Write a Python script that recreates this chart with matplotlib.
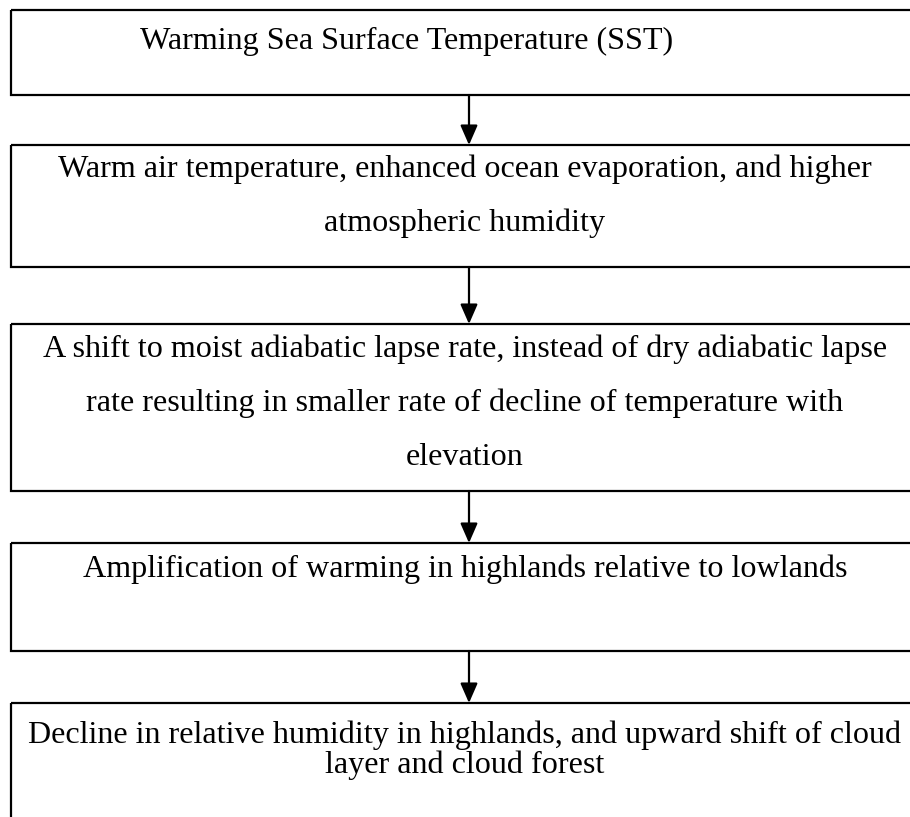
import matplotlib
matplotlib.use('Agg')
import matplotlib.pyplot as plt
from matplotlib.patches import Rectangle

# flow chart content, one list of text lines per box
box_lines = [
	['Warming Sea Surface Temperature (SST)'],
	['Warm air temperature, enhanced ocean evaporation, and higher',
	 'atmospheric humidity'],
	['A shift to moist adiabatic lapse rate, instead of dry adiabatic lapse',
	 'rate resulting in smaller rate of decline of temperature with',
	 'elevation'],
	['Amplification of warming in highlands relative to lowlands'],
	['Decline in relative humidity in highlands, and upward shift of cloud',
	 'layer and cloud forest'],
]

# layout (pixels, y downwards)
box_top = [10, 145, 324, 543, 703]
box_bottom = [95, 267, 491, 651, 840]
baselines = [[49], [177, 231], [357, 411, 465], [577], [743, 773]]
left = 11
right = 928
text_cx = 465
arrow_x = 469

W, H = 910, 817
fig = plt.figure(figsize=(W / 100, H / 100), dpi=100)
ax = fig.add_axes([0, 0, 1, 1])
ax.set_xlim(0, W)
ax.set_ylim(H, 0)
ax.axis('off')

font = dict(family=['Liberation Serif', 'DejaVu Serif'], size=23.1, color='black')

for i, lines in enumerate(box_lines):
	ax.add_patch(Rectangle((left, box_top[i]), right - left, box_bottom[i] - box_top[i],
		fill=False, edgecolor='black', lw=1.6))
	for j, s in enumerate(lines):
		if i == 0:
			ax.text(140, baselines[i][j], s, ha='left', va='baseline', **font)
		else:
			ax.text(text_cx, baselines[i][j], s, ha='center', va='baseline', **font)

for i in range(len(box_lines) - 1):
	ax.annotate('', xy=(arrow_x, box_top[i + 1]), xytext=(arrow_x, box_bottom[i]),
		arrowprops=dict(arrowstyle='-|>,head_length=0.8,head_width=0.35',
			mutation_scale=15, lw=1.6, color='black', shrinkA=0, shrinkB=0))

fig.savefig('out.png', dpi=100)
